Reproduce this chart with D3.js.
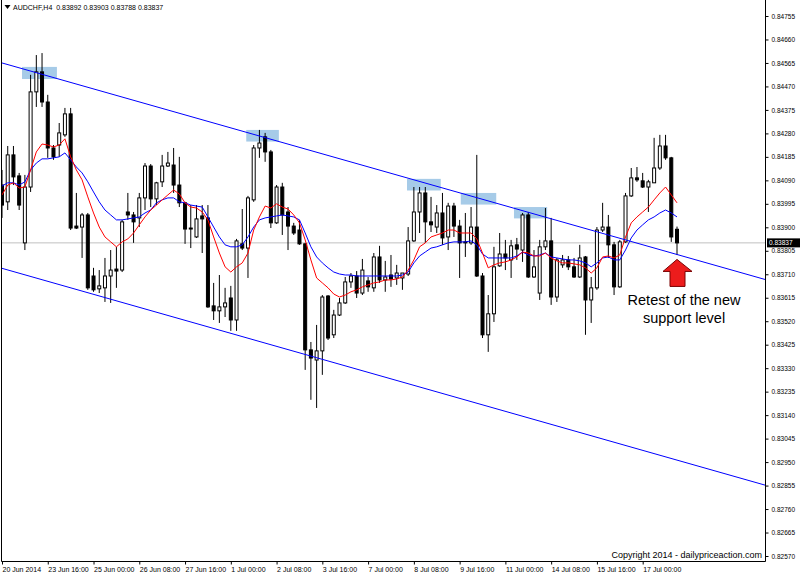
<!DOCTYPE html>
<html>
<head>
<meta charset="utf-8">
<script src="https://cdn.jsdelivr.net/npm/d3@7"></script>
<style>
  body { margin: 0; background: #fff; }
  svg text { font-family: "Liberation Sans", Arial, sans-serif; }
</style>
</head>
<body>
<svg id="chart" width="800" height="575"></svg>
<script>
// AUDCHF H4 bars, 20 Jun 2014 08:00 .. 18 Jul 2014 00:00
const opens = [0.84071,0.84003,0.84193,0.84108,0.83837,0.84063,0.84448,0.84529,0.84407,0.84221,
  0.84233,0.84274,0.84359,0.83905,0.83901,0.83950,0.83703,0.83651,0.83655,0.83703,
  0.83731,0.83727,0.83962,0.83950,0.83938,0.84019,0.84148,0.84015,0.84084,0.84148,
  0.84152,0.84071,0.83999,0.83897,0.83861,0.83946,0.83938,0.83582,0.83562,0.83578,
  0.83614,0.83525,0.83833,0.83816,0.84011,0.84221,0.84266,0.84205,0.83918,0.84063,
  0.83962,0.83905,0.83889,0.83833,0.83404,0.83363,0.83400,0.83622,0.83465,0.83545,
  0.83594,0.83679,0.83703,0.83634,0.83683,0.83655,0.83780,0.83687,0.83707,0.83695,
  0.83695,0.83711,0.83845,0.83962,0.84039,0.83922,0.83901,0.83958,0.83861,0.83986,
  0.83905,0.83841,0.83837,0.83901,0.83703,0.83465,0.83550,0.83744,0.83792,0.83768,
  0.83829,0.83808,0.83950,0.83699,0.83634,0.83821,0.83845,0.83618,0.83748,0.83768,
  0.83740,0.83699,0.83780,0.83606,0.83655,0.83889,0.83901,0.83829,0.83659,0.83841,
  0.84027,0.84100,0.84088,0.84063,0.84080,0.84140,0.84229,0.84181,0.83892];
const highs = [0.84132,0.84229,0.84229,0.84120,0.84112,0.84517,0.84597,0.84605,0.84436,0.84233,
  0.84322,0.84383,0.84383,0.84039,0.83958,0.83958,0.83736,0.83727,0.83776,0.83808,
  0.83821,0.83930,0.84039,0.83962,0.84039,0.84160,0.84156,0.84084,0.84193,0.84205,
  0.84221,0.84185,0.84003,0.83990,0.83990,0.83990,0.83990,0.83675,0.83707,0.83655,
  0.83663,0.83853,0.83974,0.84027,0.84233,0.84294,0.84282,0.84213,0.84071,0.84080,
  0.83982,0.83918,0.83930,0.83837,0.83436,0.83505,0.83626,0.83626,0.83566,0.83614,
  0.83699,0.83715,0.83723,0.83772,0.83699,0.83796,0.83825,0.83764,0.83788,0.83748,
  0.83715,0.83901,0.84063,0.84063,0.84063,0.84023,0.83990,0.84039,0.83999,0.83999,
  0.83930,0.83958,0.83982,0.84193,0.83715,0.83626,0.83821,0.83877,0.83849,0.83849,
  0.83857,0.83958,0.83962,0.83808,0.83849,0.83978,0.83938,0.83776,0.83788,0.83784,
  0.83776,0.83829,0.83784,0.83699,0.83901,0.83999,0.83950,0.83841,0.83849,0.84039,
  0.84140,0.84144,0.84120,0.84092,0.84262,0.84274,0.84274,0.84185,0.83903];
const lows = [0.83938,0.83970,0.84071,0.83970,0.83808,0.84043,0.84387,0.84387,0.84181,0.84173,
  0.84185,0.84266,0.83889,0.83893,0.83776,0.83647,0.83639,0.83634,0.83598,0.83594,
  0.83655,0.83719,0.83930,0.83837,0.83901,0.83970,0.83982,0.83990,0.84063,0.84144,
  0.84039,0.83982,0.83833,0.83816,0.83857,0.83796,0.83574,0.83525,0.83513,0.83537,
  0.83481,0.83481,0.83808,0.83695,0.84003,0.84181,0.84165,0.83897,0.83914,0.83869,
  0.83808,0.83869,0.83829,0.83323,0.83202,0.83169,0.83303,0.83444,0.83452,0.83541,
  0.83590,0.83655,0.83614,0.83626,0.83639,0.83639,0.83675,0.83639,0.83659,0.83667,
  0.83647,0.83703,0.83841,0.83877,0.83837,0.83881,0.83877,0.83829,0.83808,0.83861,
  0.83695,0.83780,0.83829,0.83699,0.83452,0.83396,0.83517,0.83740,0.83727,0.83695,
  0.83768,0.83760,0.83695,0.83695,0.83606,0.83808,0.83586,0.83598,0.83736,0.83727,
  0.83695,0.83695,0.83465,0.83513,0.83647,0.83881,0.83776,0.83626,0.83655,0.83837,
  0.84023,0.84084,0.84059,0.83962,0.84080,0.84132,0.84173,0.83841,0.83788];
const closes = [0.83990,0.84193,0.84104,0.83990,0.84063,0.84448,0.84529,0.84407,0.84221,0.84185,
  0.84282,0.84359,0.83897,0.83897,0.83950,0.83655,0.83647,0.83663,0.83703,0.83727,
  0.83723,0.83922,0.83950,0.83922,0.84019,0.84148,0.84015,0.84080,0.84148,0.84160,
  0.84071,0.83999,0.83893,0.83893,0.83934,0.83934,0.83578,0.83562,0.83578,0.83594,
  0.83525,0.83845,0.83816,0.84019,0.84221,0.84241,0.84205,0.83918,0.84063,0.83950,
  0.83905,0.83877,0.83833,0.83404,0.83371,0.83400,0.83618,0.83452,0.83545,0.83594,
  0.83679,0.83703,0.83634,0.83727,0.83659,0.83780,0.83687,0.83699,0.83691,0.83715,
  0.83715,0.83845,0.83962,0.84039,0.83922,0.83910,0.83958,0.83857,0.83986,0.83905,
  0.83837,0.83837,0.83901,0.83703,0.83465,0.83550,0.83740,0.83792,0.83776,0.83825,
  0.83812,0.83950,0.83699,0.83740,0.83821,0.83845,0.83618,0.83768,0.83768,0.83740,
  0.83699,0.83776,0.83606,0.83655,0.83889,0.83901,0.83829,0.83659,0.83841,0.84027,
  0.84100,0.84092,0.84063,0.84084,0.84140,0.84229,0.84181,0.83861,0.83837];

// moving averages (red = fast, blue = slow)
const redMA = [0.84031,0.84071,0.84080,0.84059,0.84063,0.84132,0.84205,0.84237,0.84233,0.84225,
  0.84233,0.84258,0.84185,0.84132,0.84092,0.84023,0.83958,0.83901,0.83861,0.83841,
  0.83821,0.83841,0.83853,0.83877,0.83910,0.83942,0.83970,0.83990,0.84011,0.84031,
  0.84051,0.84035,0.83999,0.83982,0.83978,0.83962,0.83930,0.83861,0.83796,0.83740,
  0.83719,0.83740,0.83756,0.83796,0.83889,0.83942,0.83986,0.83978,0.83995,0.83982,
  0.83974,0.83950,0.83918,0.83849,0.83768,0.83695,0.83675,0.83655,0.83630,0.83618,
  0.83626,0.83639,0.83647,0.83659,0.83667,0.83675,0.83679,0.83687,0.83687,0.83691,
  0.83699,0.83727,0.83768,0.83821,0.83837,0.83861,0.83869,0.83877,0.83889,0.83889,
  0.83877,0.83877,0.83877,0.83853,0.83796,0.83736,0.83748,0.83756,0.83760,0.83768,
  0.83780,0.83800,0.83796,0.83784,0.83784,0.83796,0.83776,0.83764,0.83756,0.83756,
  0.83752,0.83748,0.83736,0.83715,0.83736,0.83780,0.83784,0.83776,0.83788,0.83861,
  0.83918,0.83942,0.83962,0.83982,0.84011,0.84039,0.84063,0.84031,0.83999];
const blueMA = [0.84067,0.84080,0.84080,0.84071,0.84084,0.84132,0.84160,0.84177,0.84177,0.84181,
  0.84185,0.84201,0.84173,0.84144,0.84120,0.84084,0.84043,0.84003,0.83970,0.83950,
  0.83930,0.83930,0.83934,0.83938,0.83942,0.83958,0.83970,0.83999,0.84011,0.84019,
  0.84019,0.84003,0.83999,0.83990,0.83986,0.83982,0.83942,0.83901,0.83861,0.83829,
  0.83821,0.83821,0.83829,0.83861,0.83901,0.83930,0.83938,0.83942,0.83946,0.83950,
  0.83946,0.83942,0.83930,0.83877,0.83821,0.83780,0.83756,0.83736,0.83719,0.83711,
  0.83707,0.83707,0.83703,0.83703,0.83703,0.83703,0.83703,0.83703,0.83703,0.83703,
  0.83707,0.83719,0.83756,0.83784,0.83800,0.83816,0.83821,0.83829,0.83837,0.83841,
  0.83841,0.83841,0.83845,0.83829,0.83792,0.83776,0.83776,0.83776,0.83776,0.83776,
  0.83784,0.83800,0.83788,0.83784,0.83788,0.83796,0.83780,0.83776,0.83772,0.83768,
  0.83768,0.83764,0.83756,0.83740,0.83756,0.83776,0.83780,0.83768,0.83768,0.83808,
  0.83857,0.83889,0.83910,0.83930,0.83942,0.83958,0.83970,0.83958,0.83942];

const priceTicks = [0.84755,0.84660,0.84565,0.84470,0.84375,0.84280,0.84185,0.84090,
  0.83995,0.83900,0.83805,0.83710,0.83615,0.83520,0.83425,0.83330,0.83235,0.83140,
  0.83045,0.82950,0.82855,0.82760,0.82665,0.82570];
const labelBars = [0,8,16,24,32,40,48,56,64,72,80,88,96,104,112];
const timeLabels = ['20 Jun 2014','23 Jun 16:00','25 Jun 00:00','26 Jun 08:00','27 Jun 16:00',
  '1 Jul 00:00','2 Jul 08:00','3 Jul 16:00','7 Jul 00:00','8 Jul 08:00','9 Jul 16:00',
  '11 Jul 00:00','14 Jul 08:00','15 Jul 16:00','17 Jul 00:00'];

// channel lines: [bar, price] anchors
const channelUpper = [[0, 0.84565], [118, 0.83790]];
const channelLower = [[0, 0.83734], [118, 0.82958]];
// highlighted touches: [fromBar, toBar, topPrice, bottomPrice]
const boxes = [[3.5, 9.6, 0.84549, 0.84500], [42.7, 48.4, 0.84294, 0.84247],
  [70.8, 76.7, 0.84096, 0.84049], [80.2, 86.4, 0.84039, 0.83992], [89.5, 95.3, 0.83982, 0.83936]];
const arrowTip = 0.83770;

const svg = d3.select('#chart');
const plotRight = 765, plotBottom = 561;
const last = closes.length - 1;

const x = d3.scaleLinear().domain([0, last]).range([2, 677]);
const y = d3.scaleLinear().domain([0.82570, 0.84755]).range([556, 16]);

svg.append('defs').append('clipPath').attr('id', 'plot')
  .append('rect').attr('x', 1).attr('y', 0).attr('width', plotRight - 1).attr('height', plotBottom);

const plot = svg.append('g').attr('clip-path', 'url(#plot)');

// highlight boxes
plot.append('g').selectAll('rect').data(boxes).enter().append('rect')
  .attr('x', d => x(d[0]))
  .attr('y', d => y(d[2]))
  .attr('width', d => x(d[1]) - x(d[0]))
  .attr('height', d => y(d[3]) - y(d[2]))
  .attr('fill', '#a6cbe8');

// bid line
plot.append('line')
  .attr('x1', 0).attr('x2', plotRight)
  .attr('y1', y(closes[last])).attr('y2', y(closes[last]))
  .attr('stroke', '#c0c0c0').attr('stroke-width', 1);

// candles
const bars = d3.range(closes.length);
const candle = plot.append('g').selectAll('g').data(bars).enter().append('g');
candle.append('line')
  .attr('x1', i => x(i)).attr('x2', i => x(i))
  .attr('y1', i => y(highs[i])).attr('y2', i => y(lows[i]))
  .attr('stroke', '#000').attr('stroke-width', 1);
candle.append('rect')
  .attr('x', i => x(i) - 1.5)
  .attr('width', 3)
  .attr('y', i => y(Math.max(opens[i], closes[i])))
  .attr('height', i => Math.max(0.5, Math.abs(y(opens[i]) - y(closes[i]))))
  .attr('fill', i => closes[i] >= opens[i] ? '#fff' : '#000')
  .attr('stroke', '#000').attr('stroke-width', 1);

// moving averages
const maLine = d3.line().x((d, i) => x(i)).y(d => y(d));
plot.append('path').datum(blueMA).attr('d', maLine)
  .attr('fill', 'none').attr('stroke', '#0000ff').attr('stroke-width', 1);
plot.append('path').datum(redMA).attr('d', maLine)
  .attr('fill', 'none').attr('stroke', '#ff0000').attr('stroke-width', 1);

// channel
function extend(line) {
  const [[b0, p0], [b1, p1]] = line;
  const slope = (p1 - p0) / (b1 - b0);
  const bl = x.invert(0), br = x.invert(plotRight);
  return [[bl, p0 + slope * (bl - b0)], [br, p0 + slope * (br - b0)]];
}
[channelUpper, channelLower].forEach(l => {
  const e = extend(l);
  plot.append('line')
    .attr('x1', x(e[0][0])).attr('y1', y(e[0][1]))
    .attr('x2', x(e[1][0])).attr('y2', y(e[1][1]))
    .attr('stroke', '#0000ff').attr('stroke-width', 1);
});

// arrow and note
const ax = x(last), ay = y(arrowTip);
plot.append('path')
  .attr('d', `M${ax},${ay} L${ax + 15},${ay + 12} L${ax + 8},${ay + 12} L${ax + 8},${ay + 27}
    L${ax - 7},${ay + 27} L${ax - 7},${ay + 12} L${ax - 14},${ay + 12} Z`)
  .attr('fill', '#ec1c1c').attr('stroke', '#7a0000').attr('stroke-width', 1);

const note = svg.append('text').attr('x', 684).attr('y', 305)
  .attr('text-anchor', 'middle').attr('font-size', 14.5).attr('fill', '#000');
note.append('tspan').attr('x', 684).text('Retest of the new');
note.append('tspan').attr('x', 684).attr('dy', 18).text('support level');

svg.append('text').attr('x', 762).attr('y', 558).attr('text-anchor', 'end')
  .attr('font-size', 9).attr('fill', '#000').text('Copyright 2014 - dailypriceaction.com');

// frame
svg.append('path')
  .attr('d', `M1.5,0 V${plotBottom + 0.5} H${plotRight + 0.5} V0`)
  .attr('fill', 'none').attr('stroke', '#000').attr('stroke-width', 1);

// price axis
const yAxis = svg.append('g').attr('transform', `translate(${plotRight + 0.5},0)`)
  .call(d3.axisRight(y).tickValues(priceTicks).tickFormat(d3.format('.5f')).tickSize(3).tickPadding(3));
yAxis.select('.domain').remove();
yAxis.selectAll('text').attr('font-size', 6.5).attr('font-family', '"Liberation Sans", Arial, sans-serif');

// bid tag
svg.append('rect').attr('x', plotRight + 2).attr('y', y(closes[last]) - 4.5)
  .attr('width', 33).attr('height', 9).attr('fill', '#000');
svg.append('text').attr('x', plotRight + 4).attr('y', y(closes[last]) + 2.5)
  .attr('font-size', 6.5).attr('fill', '#fff').text(d3.format('.5f')(closes[last]));

// time axis
const xAxis = svg.append('g').attr('transform', `translate(0,${plotBottom + 0.5})`)
  .call(d3.axisBottom(x).tickValues(labelBars).tickFormat((d, i) => timeLabels[i]).tickSize(3).tickPadding(3));
xAxis.select('.domain').remove();
xAxis.selectAll('text').attr('text-anchor', 'start').attr('dx', 0)
  .attr('font-size', 7).attr('font-family', '"Liberation Sans", Arial, sans-serif');

// title
svg.append('path').attr('d', 'M4.5,5 L10.5,5 L7.5,9 Z').attr('fill', '#000');
svg.append('text').attr('x', 13).attr('y', 10).attr('font-size', 7).attr('fill', '#000')
  .attr('xml:space', 'preserve')
  .text(`AUDCHF,H4  ${[opens[last], highs[last], lows[last], closes[last]].map(d3.format('.5f')).join(' ')}`);
</script>
</body>
</html>
